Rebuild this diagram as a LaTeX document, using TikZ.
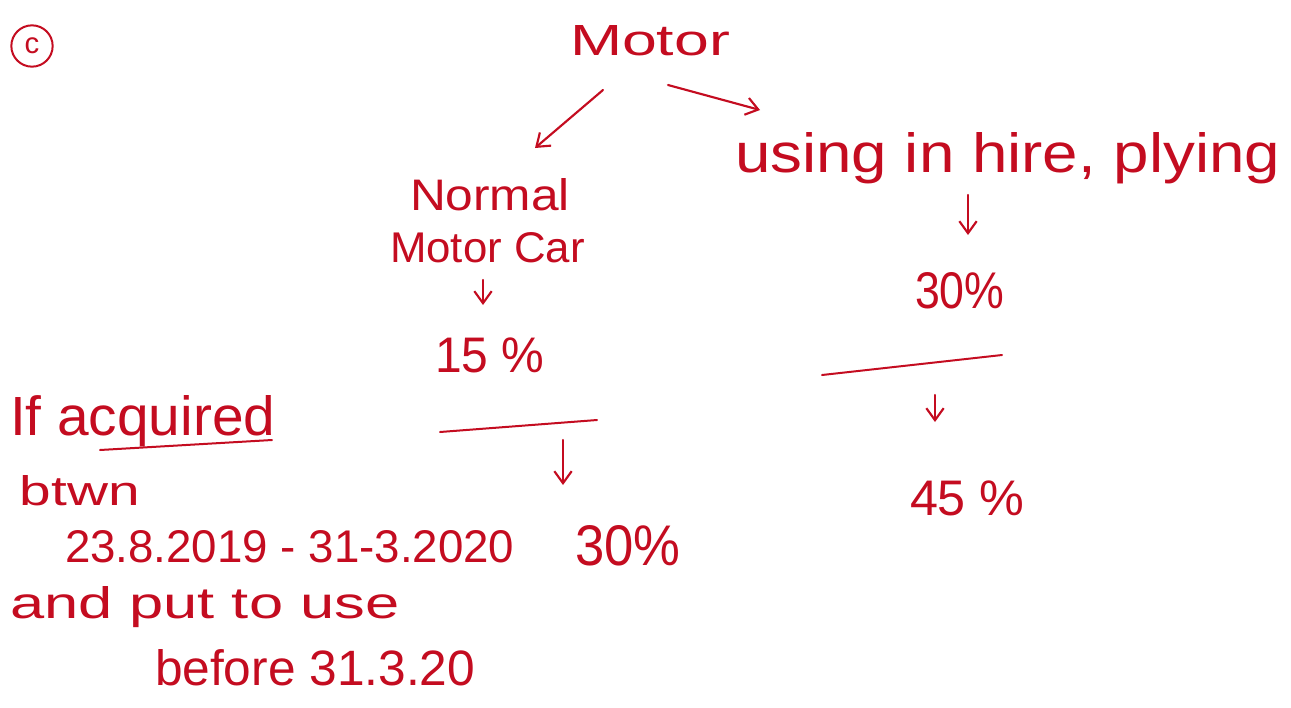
\documentclass[tikz,border=0pt]{standalone}
\usepackage{fontspec}
\setmainfont{Liberation Sans}
\usetikzlibrary{arrows.meta}
\definecolor{ink}{RGB}{196,12,32}
\tikzset{
  hw/.style={inner sep=0pt, outer sep=0pt, anchor=base west, text=ink},
  arr/.style={draw=ink, line width=1.6pt, line cap=round, -{Straight Barb[length=9pt,width=13pt,line width=1.6pt]}},
  rule/.style={draw=ink, line width=1.5pt, line cap=round}
}
\begin{document}
\begin{tikzpicture}[x=0.75pt,y=-0.75pt]
\useasboundingbox[fill=white] (0,0) rectangle (1291,707);
% circled c
\node[draw=ink, line width=1.5pt, circle, minimum size=31pt, inner sep=0pt, text=ink, font=\fontsize{22}{22}\selectfont] (lab) at (32,46) {c};
% texts
\node[hw] (motor) at (570,55) {\resizebox{120pt}{22.5pt}{Motor}};
\node[hw] (normal) at (410,210) {\resizebox{120pt}{24pt}{Normal}};
\node[hw] (motorcar) at (390,262) {\resizebox{146pt}{22.5pt}{Motor Car}};
\node[hw] (p15) at (435,372) {\resizebox{82pt}{26pt}{15 \%}};
\node[hw] (hire) at (735,172) {\resizebox{409pt}{30pt}{using in hire, plying}};
\node[hw] (p30a) at (915,308) {\resizebox{67pt}{27pt}{30\%}};
\node[hw] (p45) at (910,515) {\resizebox{86pt}{26pt}{45 \%}};
\node[hw] (ifacq) at (10,435) {\resizebox{199pt}{30pt}{If acquired}};
\node[hw] (btwn) at (20,505) {\resizebox{90pt}{22.5pt}{btwn}};
\node[hw] (dates) at (65,562) {\resizebox{337pt}{24pt}{23.8.2019 - 31-3.2020}};
\node[hw] (p30b) at (575,565) {\resizebox{79pt}{30pt}{30\%}};
\node[hw] (putuse) at (10,618) {\resizebox{292pt}{24pt}{and put to use}};
\node[hw] (before) at (155,685) {\resizebox{240pt}{27pt}{before 31.3.20}};
% arrow end points
\coordinate (a1s) at (603,90);  \coordinate (a1e) at (535,148);
\coordinate (a2s) at (668,85);  \coordinate (a2e) at (760,110);
\coordinate (a3s) at (483,280); \coordinate (a3e) at (483,305);
\coordinate (a4s) at (563,440); \coordinate (a4e) at (563,485);
\coordinate (a5s) at (968,195); \coordinate (a5e) at (968,235);
\coordinate (a6s) at (935,395); \coordinate (a6e) at (935,422);
\draw[arr] (a1s) -- (a1e);
\draw[arr] (a2s) -- (a2e);
\draw[arr] (a3s) -- (a3e);
\draw[arr] (a4s) -- (a4e);
\draw[arr] (a5s) -- (a5e);
\draw[arr] (a6s) -- (a6e);
% rules
\coordinate (r1s) at (440,432); \coordinate (r1e) at (597,420);
\coordinate (r2s) at (822,375); \coordinate (r2e) at (1002,355);
\coordinate (r3s) at (100,450); \coordinate (r3e) at (272,440);
\draw[rule] (r1s) -- (r1e);
\draw[rule] (r2s) -- (r2e);
\draw[rule] (r3s) -- (r3e);
\end{tikzpicture}
\end{document}
